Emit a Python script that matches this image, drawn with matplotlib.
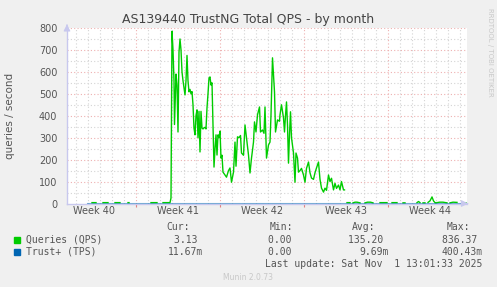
import numpy as np
import matplotlib.pyplot as plt

nan = np.nan

# hours since start of the month window (800 h shown), values in queries/second
qps_hours = [50, 54, 58, nan, 72, 77, 82, nan, 96, 101, 106, nan, 122, 124, nan,
             168, 174, 180, nan, 192, 199, 206, 208,
             210, 212, 214, 215, 218, 220, 222, 224, 226, 228, 230, 232, 234, 236,
             238, 240, 242, 244, 246, 248, 250, 252, 254, 256, 258, 260, 262, 264,
             266, 268, 270, 272, 274, 276, 278, 280, 282, 284, 286, 288, 290, 292,
             294, 296, 298, 300, 302, 304, 306, 308, 310, 312, 316, 319, 323, 326,
             329, 333, 336, 338, 341, 344, 347, 349, 353, 356, 359, 363, 366, 369,
             373, 375, 378, 381, 385, 387, 391, 394, 396, 399, 403, 406, 408, 411,
             415, 417, 421, 425, 426, 429, 433, 435, 437, 439, 441, 443, 445, 447,
             449, 453, 456, 458, 461, 463, 466, 469, 473, 476, 479, 483, 486, 489,
             493, 496, 499, 503, 506, 509, 513, 516, 519, 523, 526, 529, 533, 536,
             539, 543, 546, 549, 553, 555, nan,
             560, 566, nan, 572, 576, 580, 586, nan, 596, 601, 607, 612, nan,
             626, 633, 640, nan, 650, 660, nan, 672, 676, nan, 700, 703, 706, nan,
             712, 716, nan, 722, 726, 730, 733, 736, nan, 738, 745, 752, 760, nan,
             766, 772, 780, nan, 794, 798]
qps_values = [4, 4, 4, nan, 4, 4, 4, nan, 4, 4, 4, nan, 4, 4, nan,
              4, 4, 4, nan, 4, 4, 4, 25,
              785, 700, 560, 360, 590, 540, 326, 690, 750, 700, 600, 560, 527, 495,
              560, 675, 560, 509, 520, 500, 510, 450, 344, 313, 400, 427, 300, 420,
              235, 420, 344, 340, 345, 347, 340, 436, 500, 572, 577, 540, 550, 358,
              166, 250, 313, 221, 313, 300, 330, 207, 220, 143, 130, 120, 150, 162,
              97, 143, 280, 170, 304, 300, 310, 230, 220, 358, 300, 221, 139, 207,
              280, 372, 326, 404, 440, 326, 335, 320, 440, 207, 267, 280, 404, 664,
              509, 326, 381, 375, 404, 450, 390, 326, 400, 463, 358, 184, 313, 418,
              300, 230, 97, 230, 207, 143, 150, 160, 130, 97, 160, 189, 140, 116,
              110, 140, 162, 189, 110, 70, 52, 70, 60, 130, 100, 115, 62, 92,
              69, 84, 62, 100, 62, 62, nan,
              4, 4, nan, 3, 6, 6, 3, nan, 3, 6, 6, 3, nan,
              4, 4, 4, nan, 4, 4, nan, 3, 3, nan, 4, 9, 4, nan,
              3, 3, nan, 5, 12, 30, 12, 4, nan, 3, 6, 6, 3, nan,
              3, 6, 5, nan, 3, 3]

tps_hours = [40, 796]
tps_values = [0.01, 0.01]

week_labels = ['Week 40', 'Week 41', 'Week 42', 'Week 43', 'Week 44']
first_week = 137.5

W, H = 497, 287
fig = plt.figure(figsize=(W / 100, H / 100), dpi=100, facecolor='#f0f0f0')
ax = fig.add_axes([67 / W, (H - 203.5) / H, 400 / W, 175.5 / H])
ax.set_facecolor('white')
ax.set_xlim(0, 800)
ax.set_ylim(0, 800)

# grid
minor_c, major_c = '#d4d4d4', '#eeb0b0'
for d in np.arange(first_week - 120, 800, 24):
    ax.axvline(d, color=major_c if (d - first_week) % 168 == 0 else minor_c,
               lw=0.8, ls=(0, (1, 2)), zorder=1)
for v in range(50, 801, 50):
    ax.axhline(v, color=major_c if v % 100 == 0 else minor_c,
               lw=0.8, ls=(0, (1, 2)), zorder=1)

ax.plot(qps_hours, qps_values, color='#00cc00', lw=1.0, zorder=3)
ax.plot(tps_hours, tps_values, color='#0066b3', lw=0.8, alpha=0.5, zorder=3)

for s in ['top', 'right']:
    ax.spines[s].set_visible(False)
for s in ['left', 'bottom']:
    ax.spines[s].set_color('#c8c8ee')
    ax.spines[s].set_linewidth(1.0)
ax.annotate('', xy=(808, 0), xytext=(795, 0), xycoords='data',
            arrowprops=dict(arrowstyle='-|>', color='#c8c8ee', lw=0.8), annotation_clip=False)
ax.annotate('', xy=(0, 830), xytext=(0, 800), xycoords='data',
            arrowprops=dict(arrowstyle='-|>', color='#c8c8ee', lw=0.8), annotation_clip=False)

ax.set_yticks(range(0, 801, 100))
ax.set_yticklabels([str(v) for v in range(0, 801, 100)])
ax.tick_params(axis='y', length=0, pad=7, labelsize=7, labelcolor='#555555')
ax.set_xticks(first_week + 168 * np.arange(4))
ax.set_xticklabels([])
ax.tick_params(axis='x', length=2, color='#e08080', width=0.8)
for i, lab in enumerate(week_labels):
    ax.text(first_week - 84 + 168 * i, -12, lab, ha='center', va='top',
            fontsize=7, color='#555555')

def t(x, y, s, **kw):
    fig.text(x / W, 1 - y / H, s, **kw)

t(248, 19, 'AS139440 TrustNG Total QPS - by month', ha='center', va='center',
  fontsize=9, color='#444444')
t(10, 116, 'queries / second', ha='center', va='center', rotation=90,
  fontsize=7.5, color='#555555')
t(490, 52, 'RRDTOOL / TOBI OETIKER', ha='center', va='center', rotation=270,
  fontsize=5, color='#c8c8c8')

mono = dict(family='DejaVu Sans Mono', fontsize=7, color='#555555', va='center')
t(190, 227, 'Cur:', ha='right', **mono)
t(293, 227, 'Min:', ha='right', **mono)
t(375, 227, 'Avg:', ha='right', **mono)
t(470, 227, 'Max:', ha='right', **mono)

fig.patches.append(plt.Rectangle((14 / W, 1 - 243 / H), 6 / W, 6 / H,
                                 transform=fig.transFigure, color='#00cc00'))
fig.patches.append(plt.Rectangle((14 / W, 1 - 255 / H), 6 / W, 6 / H,
                                 transform=fig.transFigure, color='#0066b3'))
t(26, 240, 'Queries (QPS)', ha='left', **mono)
t(26, 252, 'Trust+ (TPS)', ha='left', **mono)

rows = [(240, ['3.13 ', '0.00 ', '135.20 ', '836.37 ']),
        (252, ['11.67m', '0.00 ', '9.69m', '400.43m'])]
for y, vals in rows:
    for x, v in zip([203, 297, 389, 483], vals):
        t(x, y, v, ha='right', **mono)

t(482, 264, 'Last update: Sat Nov  1 13:01:33 2025', ha='right', **mono)
t(248, 277, 'Munin 2.0.73', ha='center', va='center', fontsize=5.5, color='#c8c8c8')

fig.savefig('out.png', dpi=100, facecolor='#f0f0f0')
